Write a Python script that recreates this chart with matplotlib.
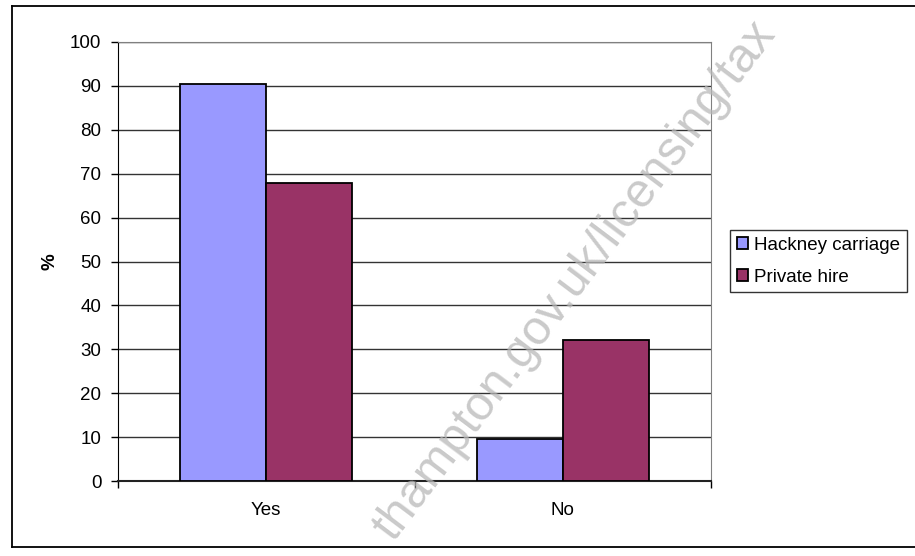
import numpy as np
import matplotlib
matplotlib.use("Agg")
import matplotlib.pyplot as plt
from matplotlib.lines import Line2D

plt.rcParams["font.family"] = ["Liberation Sans", "DejaVu Sans"]

# survey answers, percent of respondents
categorias = ["Yes", "No"]
series = ["Hackney carriage", "Private hire"]
hackney = [90.4, 9.6]
privada = [67.8, 32.2]
colores = ["#9999FF", "#993366"]
yticks = list(range(0, 101, 10))

W, H = 915, 556
fig = plt.figure(figsize=(W / 100, H / 100), dpi=100)
ax = fig.add_axes([118 / W, 1 - 481 / H, (711 - 118) / W, (481 - 42) / H])

x = np.arange(len(categorias))
ancho = 0.29
b1 = ax.bar(x - ancho / 2, hackney, ancho, color=colores[0], edgecolor="black",
            linewidth=1.3, label=series[0], zorder=3)
b2 = ax.bar(x + ancho / 2, privada, ancho, color=colores[1], edgecolor="black",
            linewidth=1.3, label=series[1], zorder=3)

ax.set_xlim(-0.5, 1.5)
ax.set_ylim(0, 100)
ax.set_yticks(yticks)
ax.set_xticks(x)
ax.set_xticklabels(categorias)
ax.set_xticks([-0.5, 0.5, 1.5], minor=True)
ax.tick_params(axis="x", which="major", length=0, pad=15, labelsize=13.5)
ax.tick_params(axis="x", which="minor", length=5, width=1, direction="out")
ax.tick_params(axis="y", length=5, width=1, direction="out", pad=7, labelsize=13.5)
ax.yaxis.grid(True, color="#333333", linewidth=1)
ax.set_axisbelow(True)

ax.spines["left"].set_color("black")
ax.spines["bottom"].set_color("#222222")
ax.spines["bottom"].set_linewidth(1.5)
ax.spines["top"].set_color("#808080")
ax.spines["right"].set_color("#808080")

ax.set_ylabel("%", fontsize=13.5, fontweight="bold", labelpad=8)

leg = fig.legend(loc="center left", bbox_to_anchor=(730 / W, 1 - 261 / H),
                 fontsize=13.5, frameon=True, fancybox=False, edgecolor="black",
                 handlelength=0.6, handleheight=0.6, handletextpad=0.35,
                 labelspacing=0.8, borderpad=0.35, borderaxespad=0)
leg.get_frame().set_linewidth(1)

# borde exterior del grafico (el lado derecho queda fuera del lienzo)
for xs, ys in [([12, 12], [6, 547]), ([12, W], [6, 6]), ([12, W], [547, 547])]:
    fig.add_artist(Line2D([v / W for v in xs], [1 - v / H for v in ys],
                          color="black", linewidth=1.3))

# marca de agua diagonal
fig.text(585 / W, 1 - 289 / H, "thampton.gov.uk/licensing/tax", fontsize=35,
         color="#b8b8b8", alpha=0.75, rotation=53, rotation_mode="anchor",
         ha="center", va="baseline", zorder=10)

fig.savefig("out.png", dpi=100, facecolor="white")
